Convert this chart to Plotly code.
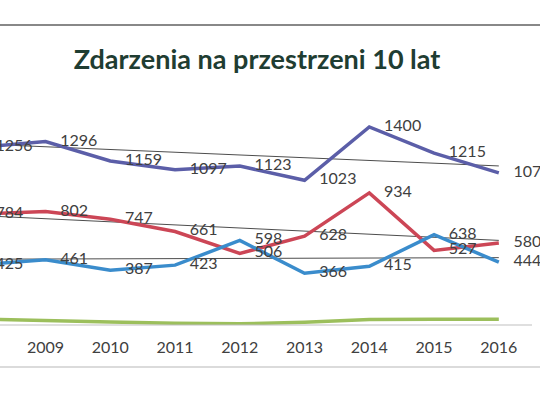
import plotly.graph_objects as go

years = [2008, 2009, 2010, 2011, 2012, 2013, 2014, 2015, 2016]
purple_vals = [1256, 1296, 1159, 1097, 1123, 1023, 1400, 1215, 1075]
red_vals = [784, 802, 747, 661, 506, 628, 934, 527, 580]
blue_vals = [425, 461, 387, 423, 598, 366, 415, 638, 444]
green_vals = [42, 35, 22, 12, 8, 20, 39, 40, 40]

trend_years = [2008, 2016]
purple_trend = [1279, 1124]
red_trend = [773, 598]
blue_trend = [465, 476]

tick_years = [2009, 2010, 2011, 2012, 2013, 2014, 2015, 2016]

FONT = "Lato"
TXT = "#404040"

fig = go.Figure()

series = [
    (purple_vals, "#5b5ea8", purple_trend),
    (red_vals, "#cc4656", red_trend),
    (blue_vals, "#3a8ccc", blue_trend),
]

for vals, col, tr in series:
    fig.add_trace(go.Scatter(x=trend_years, y=tr, mode="lines",
                             line=dict(color="#4d4d4d", width=1),
                             hoverinfo="skip", showlegend=False))

fig.add_trace(go.Scatter(x=years, y=green_vals, mode="lines",
                         line=dict(color="#9cbf5c", width=3.5),
                         showlegend=False))

for vals, col, tr in series:
    fig.add_trace(go.Scatter(x=years, y=vals, mode="lines",
                             line=dict(color=col, width=3.5),
                             showlegend=False))

for vals, col, tr in series:
    fig.add_trace(go.Scatter(x=years, y=vals, mode="markers+text",
                             marker=dict(size=22, color="rgba(0,0,0,0)"),
                             text=[str(v) for v in vals],
                             textposition="middle right",
                             textfont=dict(family=FONT, size=16, color=TXT),
                             cliponaxis=True, hoverinfo="skip",
                             showlegend=False))

PLOT_H = 325  # plot area from top of page to the axis

fig.update_layout(
    width=540, height=407,
    margin=dict(l=0, r=0, t=0, b=407 - PLOT_H),
    paper_bgcolor="white", plot_bgcolor="white",
    title=dict(text="<b>Zdarzenia na przestrzeni 10 lat</b>",
               x=0.476, xanchor="center", y=0.853, yanchor="middle",
               font=dict(family=FONT, size=27, color="#1f3d32")),
    xaxis=dict(range=[2008.297, 2016.636], tickvals=tick_years,
               ticktext=[str(y) for y in tick_years],
               showgrid=False, zeroline=False, showline=False,
               tickfont=dict(family=FONT, size=16, color=TXT),
               ticks="", ticklabelstandoff=11),
    yaxis=dict(range=[0, PLOT_H / 0.1415], visible=False),
    shapes=[
        dict(type="line", xref="paper", yref="paper", x0=0, x1=532/540,
             y0=0, y1=0, line=dict(color="#c0c0c0", width=1.2)),
        dict(type="line", xref="paper", yref="y", x0=0, x1=1,
             y0=(PLOT_H - 25) / 0.1415, y1=(PLOT_H - 25) / 0.1415,
             line=dict(color="#888888", width=2), layer="above"),
        dict(type="line", xref="paper", yref="paper", x0=0, x1=1,
             y0=(PLOT_H - 367) / PLOT_H, y1=(PLOT_H - 367) / PLOT_H,
             line=dict(color="#cfcfcf", width=1.5)),
    ],
)

fig.write_html("out.html", config={"displayModeBar": False},
               post_script="document.body.style.margin='0';document.body.style.overflow='hidden';")
